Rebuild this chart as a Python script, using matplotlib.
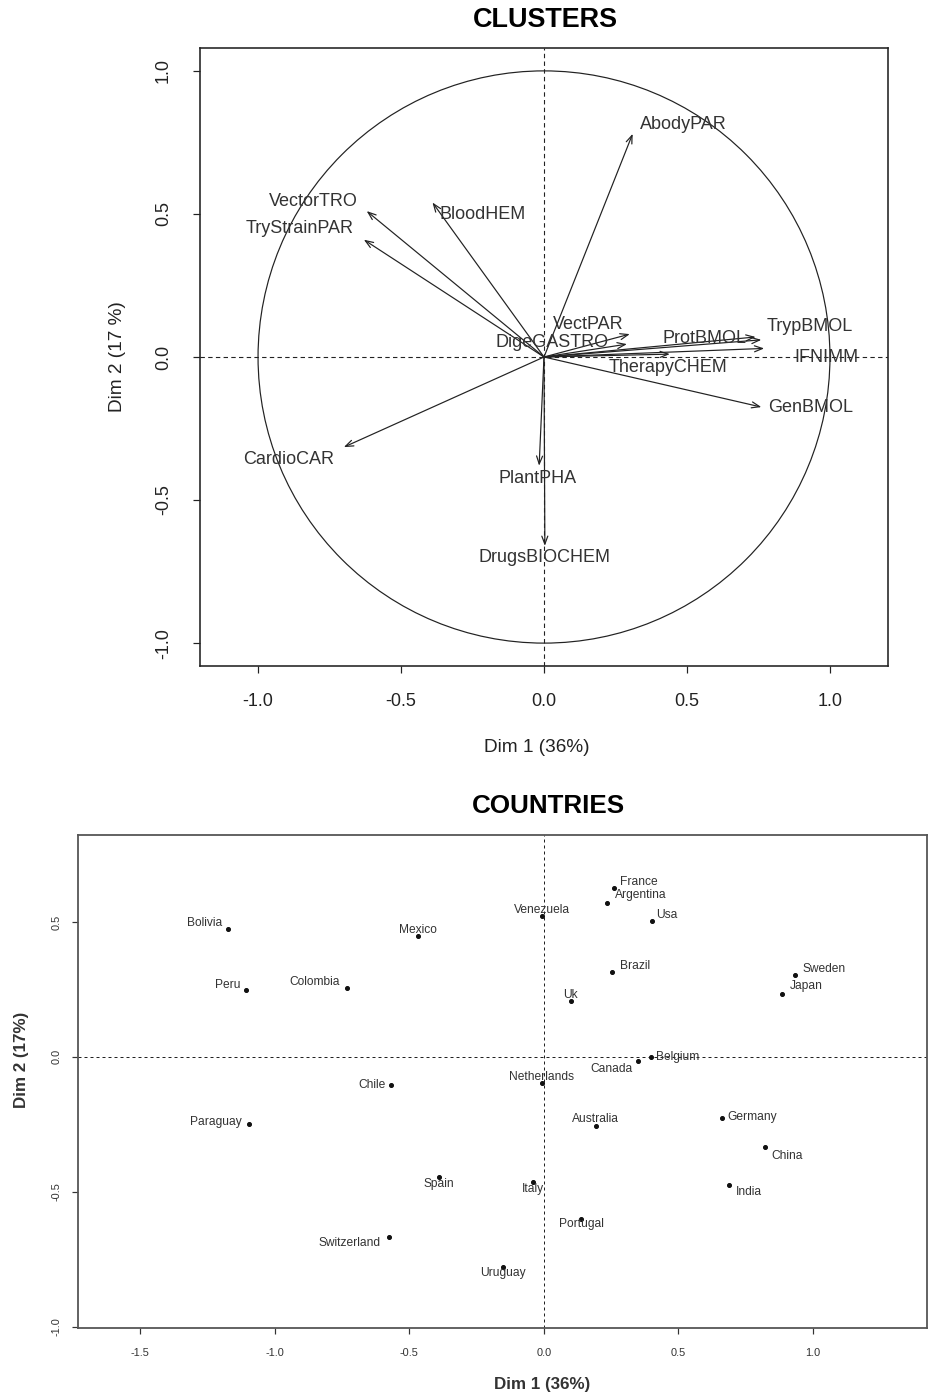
import numpy as np
import matplotlib
matplotlib.use("Agg")
import matplotlib.pyplot as plt
from matplotlib.patches import Circle

plt.rcParams['font.family'] = ['Liberation Sans', 'DejaVu Sans']

# ---------------- data: variables (clusters) ----------------
var_names = ["AbodyPAR", "VectorTRO", "BloodHEM", "TryStrainPAR", "VectPAR", "DigeGASTRO",
             "ProtBMOL", "TrypBMOL", "IFNIMM", "TherapyCHEM", "GenBMOL", "CardioCAR",
             "PlantPHA", "DrugsBIOCHEM"]
var_dim1 = [0.31, -0.62, -0.39, -0.63, 0.30, 0.29, 0.74, 0.76, 0.77, 0.44, 0.76, -0.70, -0.017, 0.003]
var_dim2 = [0.78, 0.51, 0.54, 0.41, 0.08, 0.045, 0.07, 0.06, 0.03, 0.01, -0.175, -0.315, -0.38, -0.66]
# label anchor positions (text centers)
var_lab_x = [0.486, -0.808, -0.213, -0.853, 0.154, 0.028, 0.563, 0.930, 0.986, 0.434, 0.934, -0.892, -0.021, 0.003]
var_lab_y = [0.811, 0.545, 0.497, 0.448, 0.115, 0.052, 0.066, 0.105, 0.0, -0.035, -0.178, -0.357, -0.423, -0.70]

# ---------------- data: countries ----------------
countries = ["Bolivia", "Peru", "Colombia", "Mexico", "Venezuela", "France", "Argentina", "Usa",
             "Brazil", "Uk", "Sweden", "Japan", "Chile", "Paraguay", "Spain", "Italy",
             "Switzerland", "Uruguay", "Netherlands", "Canada", "Belgium", "Australia",
             "Germany", "China", "India", "Portugal"]
cty_dim1 = [-1.175, -1.108, -0.732, -0.468, -0.007, 0.26, 0.234, 0.40, 0.253, 0.10, 0.933, 0.885,
            -0.569, -1.097, -0.39, -0.04, -0.576, -0.153, -0.007, 0.35, 0.398, 0.193, 0.662,
            0.822, 0.688, 0.138]
cty_dim2 = [0.473, 0.247, 0.254, 0.447, 0.52, 0.625, 0.57, 0.503, 0.314, 0.206, 0.305, 0.232,
            -0.105, -0.249, -0.446, -0.464, -0.667, -0.779, -0.098, -0.016, 0.0, -0.257, -0.226,
            -0.335, -0.476, -0.602]
# label offsets (points) from the dots
cty_lab_dx = [-23, -18, -32, 0, 0, 25, 34, 15, 23, 0, 29, 24, -19, -33, 0, 0, -39, 0, -1, -27, 27, 0, 30, 22, 20, 0]
cty_lab_dy = [6, 5, 6, 6, 6, 6, 8, 6, 6, 6, 6, 8, 0, 2, -7, -7, -6, -6, 6, -8, 0, 7, 1, -9, -7, -5]

top_ticks = [-1.0, -0.5, 0.0, 0.5, 1.0]
bot_xticks = [-1.5, -1.0, -0.5, 0.0, 0.5, 1.0]
bot_yticks = [-1.0, -0.5, 0.0, 0.5]

W, H = 931, 1398
DPI = 72
fig = plt.figure(figsize=(W / DPI, H / DPI), dpi=DPI)


def rect(l, t, r, b):
    return [l / W, 1 - b / H, (r - l) / W, (b - t) / H]


# ================= top: CLUSTERS =================
ax1 = fig.add_axes(rect(200, 48, 888, 666))
ax1.set_xlim(-1.203, 1.203)
ax1.set_ylim(-1.08, 1.08)
ax1.add_patch(Circle((0, 0), 1.0, fill=False, color='#222222', lw=1.2))
ax1.axhline(0, color='#222222', ls=(0, (4, 3)), lw=1.1)
ax1.axvline(0, color='#222222', ls=(0, (4, 3)), lw=1.1)
for x, y in zip(var_dim1, var_dim2):
    ax1.annotate("", xy=(x, y), xytext=(0, 0),
                 arrowprops=dict(arrowstyle="->,head_length=0.8,head_width=0.3",
                                 color='#222222', lw=1.2, shrinkA=0, shrinkB=0))
for name, lx, ly in zip(var_names, var_lab_x, var_lab_y):
    ax1.text(lx, ly, name, ha='center', va='center', fontsize=18, color='#333333')
ax1.set_xticks(top_ticks)
ax1.set_yticks(top_ticks)
ax1.set_xticklabels([f"{v:.1f}" for v in top_ticks])
ax1.set_yticklabels([f"{v:.1f}" for v in top_ticks], rotation=90, va='center')
ax1.tick_params(direction='out', length=7, width=1.2, labelsize=18, colors='#222222')
ax1.tick_params(axis='x', pad=20)
ax1.tick_params(axis='y', pad=21)
for s in ax1.spines.values():
    s.set_linewidth(1.6)
    s.set_color('#222222')
fig.text(545 / W, 1 - 20 / H, "CLUSTERS", ha='center', va='center', fontsize=27, fontweight='bold')
fig.text(537 / W, 1 - 748 / H, "Dim 1 (36%)", ha='center', va='center', fontsize=19, color='#222222')
fig.text(118 / W, 1 - 357 / H, "Dim 2 (17 %)", ha='center', va='center', rotation=90, fontsize=19,
         color='#222222')

# ================= bottom: COUNTRIES =================
ax2 = fig.add_axes(rect(78, 835, 927, 1328))
ax2.set_xlim(-1.732, 1.424)
ax2.set_ylim(-1.005, 0.822)
ax2.axhline(0, color='#222222', ls=(0, (3, 3)), lw=1.0)
ax2.axvline(0, color='#222222', ls=(0, (3, 3)), lw=1.0)
ax2.plot(cty_dim1, cty_dim2, 'o', color='#111111', ms=4)
for name, x, y, dx, dy in zip(countries, cty_dim1, cty_dim2, cty_lab_dx, cty_lab_dy):
    ax2.annotate(name, xy=(x, y), xytext=(dx, dy), textcoords='offset points',
                 ha='center', va='center', fontsize=12, color='#333333')
ax2.set_xticks(bot_xticks)
ax2.set_yticks(bot_yticks)
ax2.set_xticklabels([f"{v:.1f}" for v in bot_xticks])
ax2.set_yticklabels([f"{v:.1f}" for v in bot_yticks], rotation=90, va='center')
ax2.tick_params(direction='out', length=6, width=1.2, labelsize=11, colors='#333333')
ax2.tick_params(axis='x', pad=14)
ax2.tick_params(axis='y', pad=10)
for s in ax2.spines.values():
    s.set_linewidth(1.8)
    s.set_color('#555555')
fig.text(548 / W, 1 - 806 / H, "COUNTRIES", ha='center', va='center', fontsize=26, fontweight='bold')
fig.text(542 / W, 1 - 1385 / H, "Dim 1 (36%)", ha='center', va='center', fontsize=17,
         fontweight='bold', color='#333333')
fig.text(22 / W, 1 - 1060 / H, "Dim 2 (17%)", ha='center', va='center', rotation=90, fontsize=17,
         fontweight='bold', color='#333333')

fig.savefig("out.png", dpi=DPI, facecolor='white')
